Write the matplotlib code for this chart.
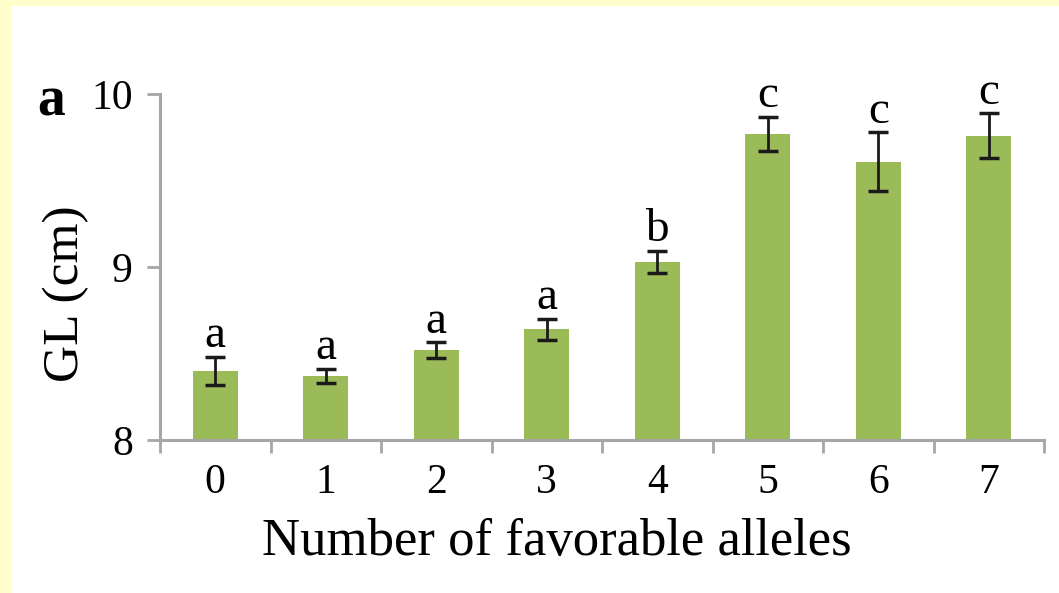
import matplotlib
matplotlib.use("Agg")
import matplotlib.pyplot as plt
from matplotlib.patches import Rectangle
import numpy as np

plt.rcParams['font.family'] = ['Liberation Serif', 'DejaVu Serif']

# mean grain length per number of favorable alleles
alleles = ['0', '1', '2', '3', '4', '5', '6', '7']
gl_mean = [8.40, 8.37, 8.52, 8.64, 9.03, 9.77, 9.61, 9.76]
gl_err = [0.08, 0.04, 0.045, 0.06, 0.065, 0.10, 0.17, 0.13]
groups = ['a', 'a', 'a', 'a', 'b', 'c', 'c', 'c']

BAR = '#9BBB59'
AXIS = '#A6A6A6'

fig = plt.figure(figsize=(10.59, 5.93), dpi=100)
fig.patch.set_facecolor('white')
# pale yellow frame along the top and left edges
fig.patches.append(Rectangle((0, 0), 11 / 1059, 1, transform=fig.transFigure,
                             facecolor='#FFFFCC', edgecolor='none', zorder=-1))
fig.patches.append(Rectangle((0, 1 - 6 / 593), 1, 6 / 593, transform=fig.transFigure,
                             facecolor='#FFFFCC', edgecolor='none', zorder=-1))

ax = fig.add_axes([160 / 1059, 1 - 440 / 593, (1044 - 160) / 1059, (440 - 94.3) / 593])
x = np.arange(len(alleles))
ax.bar(x, np.array(gl_mean) - 8, bottom=8, width=0.41, color=BAR, zorder=2)
ax.errorbar(x, gl_mean, yerr=gl_err, fmt='none', ecolor='#1a1a1a',
            elinewidth=2, capsize=7.2, capthick=2.5, zorder=3)

for xi, m, e, g in zip(x, gl_mean, gl_err, groups):
    ax.annotate(g, (xi, m + e), xytext=(0, 7), textcoords='offset points',
                ha='center', va='baseline', fontsize=34)

ax.set_xlim(-0.5, len(alleles) - 0.5)
ax.set_ylim(8, 10)
ax.set_yticks([8, 9, 10])
ax.set_xticks(x)
ax.set_xticklabels(alleles)
ax.set_xticks(np.arange(-0.5, len(alleles)), minor=True)

for side in ('top', 'right'):
    ax.spines[side].set_visible(False)
for side in ('left', 'bottom'):
    ax.spines[side].set_color(AXIS)
    ax.spines[side].set_linewidth(2.2)

ax.tick_params(axis='x', which='major', length=0, pad=17, labelsize=30)
ax.tick_params(axis='x', which='minor', length=9.5, width=2, color=AXIS, direction='out')
ax.tick_params(axis='y', length=9.5, width=2, color=AXIS, pad=10, labelsize=30)

ax.set_xlabel('Number of favorable alleles', fontsize=38, labelpad=12)
ax.xaxis.set_label_coords(0.449, -0.225)
ax.set_ylabel('GL (cm)', fontsize=37)
ax.yaxis.set_label_coords(-0.08, 0.422)

fig.text(51 / 1059, 1 - 101 / 593, 'a', fontsize=40, fontweight='bold',
         ha='center', va='center')

fig.savefig('out.png', dpi=100)
